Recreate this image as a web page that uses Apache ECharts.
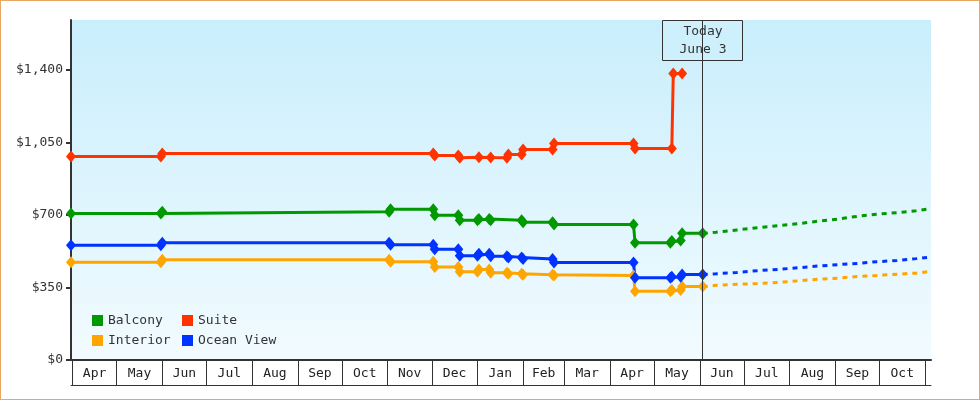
<!DOCTYPE html>
<html>
<head>
<meta charset="utf-8">
<script src="https://cdn.jsdelivr.net/npm/echarts@6/dist/echarts.min.js"></script>
<style>
html,body{margin:0;padding:0;background:#fff;}
#wrap{position:relative;width:980px;height:400px;}
#chart{position:absolute;left:0;top:0;width:980px;height:400px;}
#frame{position:absolute;left:0;top:0;width:980px;height:400px;box-sizing:border-box;border:1px solid #e8a862;pointer-events:none;}
</style>
</head>
<body>
<div id="wrap"><div id="chart"></div><div id="frame"></div></div>
<script>
// ---- axis ticks / labels ----
const axisMin = '2018-03-31';
const axisMax = '2019-11-05';
const monthStarts = ['2018-04-01','2018-05-01','2018-06-01','2018-07-01','2018-08-01','2018-09-01','2018-10-01','2018-11-01','2018-12-01','2019-01-01','2019-02-01','2019-03-01','2019-04-01','2019-05-01','2019-06-01','2019-07-01','2019-08-01','2019-09-01','2019-10-01','2019-11-01'];
const monthNames = ['Apr','May','Jun','Jul','Aug','Sep','Oct','Nov','Dec','Jan','Feb','Mar','Apr','May','Jun','Jul','Aug','Sep','Oct'];
const yTicks = [0, 350, 700, 1050, 1400];
const yLabels = ['$0', '$350', '$700', '$1,050', '$1,400'];
const todayDate = '2019-06-03';
const todayLabel = 'Today\nJune 3';

// ---- series (observed) ----
const balconyDates = ['2018-03-31','2018-05-31','2018-06-01','2018-11-02','2018-11-03','2018-12-02','2018-12-03','2018-12-19','2018-12-20','2019-01-01','2019-01-02','2019-01-09','2019-01-10','2019-01-31','2019-02-01','2019-02-21','2019-02-22','2019-04-17','2019-04-18','2019-05-12','2019-05-13','2019-05-19','2019-05-20','2019-06-03'];
const balconyPrices = [707,707,715,715,727,727,698,698,674,674,680,680,674,674,664,664,653,653,566,566,574,577,611,611];

const suiteDates = ['2018-03-31','2018-05-31','2018-06-01','2018-12-02','2018-12-03','2018-12-19','2018-12-20','2019-01-02','2019-01-10','2019-01-21','2019-01-22','2019-01-31','2019-02-01','2019-02-21','2019-02-22','2019-04-17','2019-04-18','2019-05-13','2019-05-14','2019-05-20'];
const suitePrices = [981,981,996,996,986,986,976,978,977,976,991,991,1015,1015,1044,1044,1020,1020,1382,1382];

const interiorDates = ['2018-03-31','2018-05-31','2018-06-01','2018-11-02','2018-11-03','2018-12-02','2018-12-03','2018-12-19','2018-12-20','2019-01-01','2019-01-02','2019-01-09','2019-01-10','2019-01-21','2019-01-22','2019-01-31','2019-02-01','2019-02-21','2019-02-22','2019-04-17','2019-04-18','2019-05-12','2019-05-13','2019-05-19','2019-05-20','2019-06-03'];
const interiorPrices = [472,472,484,484,474,474,448,448,426,426,436,436,421,421,416,416,411,411,407,407,332,332,338,338,354,354];

const oceanDates = ['2018-03-31','2018-05-31','2018-06-01','2018-11-02','2018-11-03','2018-12-02','2018-12-03','2018-12-19','2018-12-20','2019-01-01','2019-01-02','2019-01-09','2019-01-10','2019-01-21','2019-01-22','2019-01-31','2019-02-01','2019-02-21','2019-02-22','2019-04-17','2019-04-18','2019-05-12','2019-05-13','2019-05-19','2019-05-20','2019-06-03'];
const oceanPrices = [554,554,566,566,556,556,534,534,503,503,512,512,500,500,495,495,487,487,470,470,397,397,402,402,413,413];

// ---- forecast ----
const forecastDates = ['2019-06-03','2019-06-12','2019-06-26','2019-07-10','2019-07-24','2019-08-07','2019-08-20','2019-09-03','2019-09-16','2019-09-29','2019-10-13','2019-10-26','2019-11-03'];
const balconyForecast = [611,616,627,638,648,658,669,680,693,703,711,720,728];
const interiorForecast = [354,360,365,369,374,382,389,395,403,408,414,419,426];
const oceanForecast = [413,416,422,431,437,445,453,460,466,474,480,489,495];

const colors = {Balcony:'#009900', Suite:'#ff3300', Interior:'#ffa500', 'Ocean View':'#0033ff'};
const FONT = "'DejaVu Sans Mono', monospace";

function ts(s){ const p = s.split('-').map(Number); return new Date(p[0], p[1]-1, p[2]).getTime(); }
function zip(d, v){ return d.map((x,i)=>[ts(x), v[i]]); }

const tickTs = monthStarts.map(ts);
const midTs = [];
for (let i = 0; i < monthNames.length; i++) midTs.push((tickTs[i] + tickTs[i+1]) / 2);

function mainSeries(name, d, v, extra){
  return Object.assign({
    name, type:'line', xAxisIndex:0, data: zip(d, v),
    symbol:'diamond', symbolSize:[10,12], showSymbol:true,
    lineStyle:{color:colors[name], width:3},
    itemStyle:{color:colors[name]},
    emphasis:{disabled:true}, z:3
  }, extra||{});
}
function fcSeries(name, v){
  return {
    name, type:'line', xAxisIndex:0, data: zip(forecastDates, v),
    showSymbol:false, symbol:'none',
    lineStyle:{color:colors[name], width:3, type:[5,5]},
    itemStyle:{color:colors[name]},
    emphasis:{disabled:true}, z:2
  };
}

const chart = echarts.init(document.getElementById('chart'), null, {renderer:'canvas'});
const legendCommon = {icon:'rect', itemWidth:11, itemHeight:11, padding:0, itemGap:0,
  textStyle:{fontFamily:FONT, fontSize:13, color:'#333'}, selectedMode:false};

chart.setOption({
  animation:false,
  grid:{left:71, right:49, top:20, bottom:40, show:true, borderWidth:0,
    backgroundColor: new echarts.graphic.LinearGradient(0,0,0,1,[{offset:0,color:'#c9eefc'},{offset:1,color:'#f2fbff'}])},
  legend:[
    Object.assign({data:['Balcony'], left:92, top:314}, legendCommon),
    Object.assign({data:['Suite'], left:182, top:314}, legendCommon),
    Object.assign({data:['Interior'], left:92, top:334}, legendCommon),
    Object.assign({data:['Ocean View'], left:182, top:334}, legendCommon)
  ],
  xAxis:[
    {type:'value', min:ts(axisMin), max:ts(axisMax), position:'bottom', scale:true,
     axisLine:{show:true, onZero:false, lineStyle:{color:'#333', width:2}},
     axisTick:{show:true, customValues:tickTs, length:25, lineStyle:{color:'#333', width:1}},
     axisLabel:{show:true, customValues:midTs, margin:7, fontFamily:FONT, fontSize:13, color:'#222',
       formatter:(v)=>{ const i = midTs.findIndex(m=>Math.abs(m-v)<1000); return i>=0 ? monthNames[i] : ''; }},
     splitLine:{show:false}, minorTick:{show:false}},
    {type:'value', min:ts(axisMin), max:ts(axisMax), position:'bottom', offset:25, scale:true,
     axisLine:{show:true, onZero:false, lineStyle:{color:'#333', width:1}},
     axisTick:{show:false}, axisLabel:{show:false}, splitLine:{show:false}}
  ],
  yAxis:{type:'value', min:0, max:1640, interval:350,
    axisLine:{show:true, lineStyle:{color:'#333', width:2}},
    axisTick:{show:true, customValues:yTicks, length:5, lineStyle:{color:'#333', width:2}},
    axisLabel:{show:true, customValues:yTicks, margin:8, fontFamily:FONT, fontSize:13, color:'#333',
      formatter:(v)=>{ const i = yTicks.indexOf(v); return i>=0 ? yLabels[i] : ''; }},
    splitLine:{show:false}},
  series:[
    fcSeries('Balcony', balconyForecast),
    fcSeries('Interior', interiorForecast),
    fcSeries('Ocean View', oceanForecast),
    mainSeries('Balcony', balconyDates, balconyPrices, {
      markLine:{silent:true, symbol:['none','none'], label:{show:false},
        lineStyle:{color:'#333', width:1, type:'solid'}, emphasis:{disabled:true},
        data:[{xAxis: ts(todayDate)}]}
    }),
    mainSeries('Suite', suiteDates, suitePrices),
    mainSeries('Interior', interiorDates, interiorPrices),
    mainSeries('Ocean View', oceanDates, oceanPrices)
  ]
});

const tx = Math.round(chart.convertToPixel({xAxisIndex:0}, ts(todayDate)));
chart.setOption({
  graphic:[{
    type:'group', z:100,
    children:[
      {type:'rect', shape:{x:tx-40.5, y:20.5, width:80, height:40},
       style:{fill:'#cdf0fc', stroke:'#333', lineWidth:1}},
      {type:'text', style:{text:todayLabel, x:tx, y:41, align:'center', verticalAlign:'middle',
       font:"13px 'DejaVu Sans Mono', monospace", fill:'#333', lineHeight:18}}
    ]
  }]
});
</script>
</body>
</html>
